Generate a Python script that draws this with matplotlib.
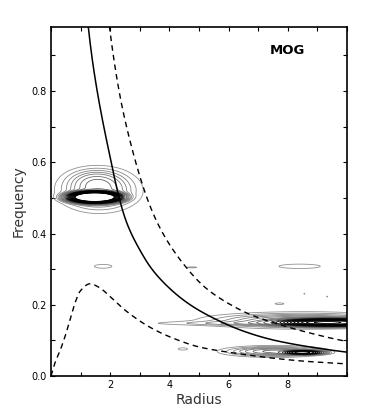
import numpy as np
import matplotlib
matplotlib.use("Agg")
import matplotlib.pyplot as plt
from matplotlib.colors import LinearSegmentedColormap

# ---- curves ----
omega_r = [1.26, 1.94, 2.56, 3.0, 3.34, 4.02, 4.7, 5.6, 6.5, 7.51, 8.64, 10.0]
omega_f = [0.98, 0.637, 0.43, 0.354, 0.308, 0.245, 0.2, 0.158, 0.126, 0.101, 0.083, 0.067]

upper_r = [1.97, 2.3, 2.78, 3.51, 4.47, 5.26, 6.05, 6.72, 7.51, 8.64, 10.0]
upper_f = [0.983, 0.80, 0.625, 0.445, 0.315, 0.245, 0.201, 0.173, 0.150, 0.123, 0.097]

lower_r = [0.0, 0.135, 0.3, 0.47, 0.65, 0.81, 1.0, 1.32, 1.6, 2.05, 2.5, 3.34, 4.13, 5.03, 6.39, 7.5, 8.64, 10.0]
lower_f = [0.0, 0.037, 0.07, 0.11, 0.16, 0.205, 0.24, 0.259, 0.25, 0.219, 0.185, 0.137, 0.106, 0.081, 0.062, 0.050, 0.041, 0.034]

# ---- power-spectrum features: centre r, centre f, width r, width f, amplitude, sharpness ----
feat_r0 = [1.47, 1.62, 1.5, 1.76, 8.4, 4.75, 7.72, 8.56, 9.33, 7.0, 9.5, 8.5, 7.55, 8.55, 4.45]
feat_f0 = [0.502, 0.52, 0.555, 0.308, 0.308, 0.305, 0.203, 0.231, 0.223, 0.148, 0.150, 0.156, 0.069, 0.066, 0.076]
feat_sr = [0.616, 0.77, 0.6, 0.36, 0.85, 0.24, 0.2, 0.03, 0.03, 2.85, 1.3, 1.9, 1.0, 0.5, 0.2]
feat_sf = [0.011, 0.033, 0.02, 0.0065, 0.0075, 0.0018, 0.003, 0.002, 0.002, 0.004, 0.008, 0.013, 0.0088, 0.0045, 0.004]
feat_amp = [15.0, 1.3, 0.4, 0.28, 0.28, 0.26, 0.26, 0.24, 0.24, 0.33, 6.0, 1.2, 1.3, 4.0, 0.26]
feat_pow = [1.5, 1.0, 1.0, 1.0, 1.0, 1.0, 1.0, 1.0, 1.0, 1.0, 1.5, 1.0, 1.0, 1.5, 1.0]

levels = [0.2, 0.35, 0.5, 0.65, 0.8, 1.0, 1.2, 1.5, 2.0, 2.5, 3.0, 3.5, 4.0, 4.5, 5.0,
          5.5, 6.0, 6.5, 7.0, 7.5, 8.0, 8.5, 9.0]


def pchip(x, y, xn):
    x = np.asarray(x, float); y = np.asarray(y, float)
    h = np.diff(x); d = np.diff(y) / h
    m = np.zeros_like(y)
    for k in range(1, len(x) - 1):
        if d[k - 1] * d[k] > 0:
            w1 = 2 * h[k] + h[k - 1]; w2 = h[k] + 2 * h[k - 1]
            m[k] = (w1 + w2) / (w1 / d[k - 1] + w2 / d[k])
    m[0] = d[0]; m[-1] = d[-1]
    idx = np.clip(np.searchsorted(x, xn) - 1, 0, len(x) - 2)
    t = (xn - x[idx]) / h[idx]
    h00 = 2 * t**3 - 3 * t**2 + 1; h10 = t**3 - 2 * t**2 + t
    h01 = -2 * t**3 + 3 * t**2; h11 = t**3 - t**2
    return h00 * y[idx] + h10 * h[idx] * m[idx] + h01 * y[idx + 1] + h11 * h[idx] * m[idx + 1]


def loglog_curve(xs, ys, n=400):
    xn = np.linspace(xs[0], xs[-1], n)
    return xn, np.exp(pchip(np.log(xs), np.log(ys), np.log(xn)))


fig = plt.figure(figsize=(3.74, 4.13), dpi=100)
ax = fig.add_axes([0.1364, 0.0896, 0.7914, 0.845])

R = np.linspace(0, 10, 700)
F = np.linspace(0, 0.98, 1400)
RR, FF = np.meshgrid(R, F)
Z = np.zeros_like(RR)
for r0, f0, sr, sf, a, p in zip(feat_r0, feat_f0, feat_sr, feat_sf, feat_amp, feat_pow):
    q = ((RR - r0) / sr) ** 2 + ((FF - f0) / sf) ** 2
    Z += a * np.exp(-0.5 * q ** p)

cmap = LinearSegmentedColormap.from_list("g", ["#909090", "#5a5a5a", "#000000", "#000000"])
ax.contour(RR, FF, Z, levels=levels, cmap=cmap, vmin=0.2, vmax=4.0, linewidths=0.6)

xn, yn = loglog_curve(omega_r, omega_f)
ax.plot(xn, yn, color="black", lw=1.1)
xn, yn = loglog_curve(upper_r, upper_f)
ax.plot(xn, yn, color="black", lw=1.0, ls=(0, (4, 3)))
xn = np.linspace(lower_r[0], lower_r[-1], 400)
ax.plot(xn, pchip(lower_r, lower_f, xn), color="black", lw=1.0, ls=(0, (4, 3)))

ax.set_xlim(0, 10)
ax.set_ylim(0, 0.98)
ax.set_xticks(np.arange(0, 11, 1))
ax.set_xticklabels(["", "", "2", "", "4", "", "6", "", "8", "", ""])
ax.set_yticks(np.arange(0, 1.0, 0.1))
ax.set_yticklabels(["0.0", "", "0.2", "", "0.4", "", "0.6", "", "0.8", ""])
ax.tick_params(direction="in", length=3, width=0.8, labelsize=7, top=True, right=True, pad=3)
for s in ax.spines.values():
    s.set_linewidth(1.2)

ax.set_xlabel("Radius", fontsize=10, color="#333333", labelpad=2)
ax.set_ylabel("Frequency", fontsize=10, color="#333333", labelpad=4)
ax.text(8.0, 0.913, "MOG", fontsize=9.5, fontweight="bold", ha="center", va="center")

fig.savefig("out.png", dpi=100)
